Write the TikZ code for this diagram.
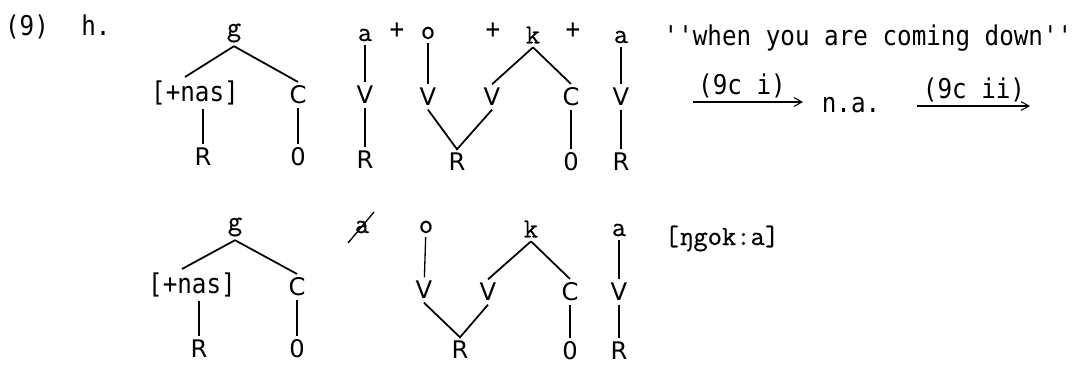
\documentclass[tikz,border=0pt]{standalone}
\usepackage{fontspec}
\usepackage{tikz}
\usetikzlibrary{arrows.meta}
\newfontfamily\segfont[FakeBold=0.5]{Latin Modern Mono}
\newfontfamily\typefont[FakeStretch=0.89]{DejaVu Sans Mono}
\newfontfamily\labfont{DejaVu Sans}

\tikzset{
  seg/.style={font=\segfont\fontsize{15.8}{18}\selectfont, inner sep=2pt},
  lab/.style={font=\labfont\fontsize{13.8}{16}\selectfont, inner sep=2pt},
  feat/.style={font=\typefont\fontsize{15.5}{18}\selectfont, inner sep=2pt},
  txt/.style={font=\typefont\fontsize{15.5}{18}\selectfont, anchor=base, inner sep=0pt},
  branch/.style={line width=1pt},
  link/.style={line width=0.75pt},
  rulearrow/.style={line width=0.6pt, -{Straight Barb[length=4.5pt,width=5pt]}}
}

\begin{document}
\begin{tikzpicture}[x=0.02cm, y=-0.02cm]
\useasboundingbox (0,0) rectangle (1086,365);

% Example number
\node[txt] (num) at (27,35) {(9)};
\node[txt] (item) at (96,35) {h.};

% Top row, first tree
\node[seg] (g1) at (234,33) {g};
\node[feat] (nas1) at (195,93) {[+nas]};
\node[lab] (c1) at (298,95) {C};
\node[lab] (r1) at (203,157) {R};
\node[lab] (o1) at (298,157) {0};
\draw[branch] (g1.south) -- ([xshift=-0.2cm]nas1.north);
\draw[branch] (g1.south) -- (c1.north);
\draw[link] (r1 |- nas1.south) -- (r1);
\draw[link] (c1) -- (o1);

% Top row, a + o + k + a
\node[seg] (a1) at (365,35) {a};
\node[feat] (p1) at (397,31) {+};
\node[seg] (o2) at (428,33) {o};
\node[feat] (p2) at (493,31) {+};
\node[seg] (k1) at (533,35) {k};
\node[feat] (p3) at (573,31) {+};
\node[seg] (a2) at (621,37) {a};
\node[lab] (va1) at (365,95) {V};
\node[lab] (ra1) at (365,160) {R};
\node[lab] (vo1) at (428,97) {V};
\node[lab] (vk1) at (492,97) {V};
\node[lab] (rv1) at (457,162) {R};
\node[lab] (ck1) at (571,97) {C};
\node[lab] (ok1) at (571,162) {0};
\node[lab] (va2) at (621,97) {V};
\node[lab] (ra2) at (621,162) {R};
\draw[link] (a1) -- (va1); \draw[link] (va1) -- (ra1);
\draw[link] (o2) -- (vo1);
\draw[branch] (vo1.south) -- (rv1.north) -- (vk1.south);
\draw[branch] (k1.south) -- (vk1.north);
\draw[branch] (k1.south) -- (ck1.north);
\draw[link] (ck1) -- (ok1);
\draw[link] (a2) -- (va2); \draw[link] (va2) -- (ra2);

% Gloss and rules
\node[txt] (gloss) at (868,45) {''when you are coming down''};
\node[txt] (lab1) at (742,94) {(9c i)};
\coordinate (r1a) at (693,102); \coordinate (r1b) at (803,102);
\draw[rulearrow] (r1a) -- (r1b);
\node[txt] (na) at (851,112) {n.a.};
\node[txt] (lab2) at (974,98) {(9c ii)};
\coordinate (r2a) at (917,106); \coordinate (r2b) at (1030,106);
\draw[rulearrow] (r2a) -- (r2b);

% Bottom row, first tree
\node[seg] (g2) at (235,227) {g};
\node[feat] (nas2) at (192,285) {[+nas]};
\node[lab] (c2) at (297,287) {C};
\node[lab] (r2) at (199,349) {R};
\node[lab] (o3) at (297,349) {0};
\draw[branch] (g2.south) -- ([xshift=-0.2cm]nas2.north);
\draw[branch] (g2.south) -- (c2.north);
\draw[link] (r2 |- nas2.south) -- (r2);
\draw[link] (c2) -- (o3);

% Bottom row, struck a, o k a
\node[seg] (a3) at (362,227) {a};
\draw[link] ([shift={(-14,16)}]a3.center) -- ([shift={(12,-15)}]a3.center);
\node[seg] (o4) at (426,227) {o};
\node[seg] (k2) at (531,229) {k};
\node[seg] (a4) at (619,230) {a};
\node[lab] (vo2) at (424,290) {V};
\node[lab] (vk2) at (488,292) {V};
\node[lab] (rv2) at (460,350) {R};
\node[lab] (ck2) at (570,292) {C};
\node[lab] (ok2) at (570,351) {0};
\node[lab] (va4) at (619,292) {V};
\node[lab] (ra4) at (619,351) {R};
\draw[link] (o4) -- (vo2);
\draw[branch] (vo2.south) -- (rv2.north) -- (vk2.south);
\draw[branch] (k2.south) -- (vk2.north);
\draw[branch] (k2.south) -- (ck2.north);
\draw[link] (ck2) -- (ok2);
\draw[link] (a4) -- (va4); \draw[link] (va4) -- (ra4);

% Output form
\node[seg, anchor=base] (form) at (722,245) {[ŋgok:a]};
\end{tikzpicture}
\end{document}
